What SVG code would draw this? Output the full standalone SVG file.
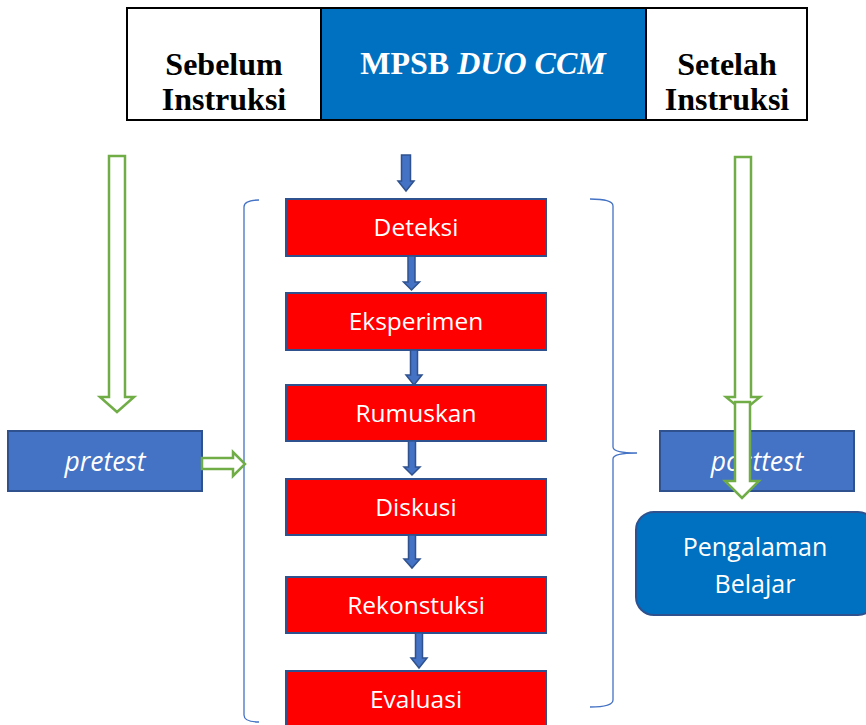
<svg xmlns="http://www.w3.org/2000/svg" width="866" height="725" viewBox="0 0 866 725">
<style>
.hdr{font-family:"Liberation Serif",serif;font-weight:bold;font-size:32px;text-anchor:middle}
.step rect{fill:#FF0000;stroke:#2F528F;stroke-width:2}
.step text,.tb text{font-family:"Open Sans","Noto Sans",sans-serif;font-size:24.5px;fill:#fff;text-anchor:middle}
.tb rect{fill:#4472C4;stroke:#2F528F;stroke-width:2}
.garrow{fill:#fff;stroke:#70AD47;stroke-width:2.5;stroke-linejoin:miter}
.barrow{fill:#4472C4;stroke:#2F528F;stroke-width:1.5}
.brace{fill:none;stroke:#4472C4;stroke-width:1.3}
</style>
<rect width="866" height="725" fill="#fff"/>
<g id="header">
<rect x="321" y="8" width="325" height="112" fill="#0070C0"/>
<rect x="127" y="8" width="680" height="112" fill="none" stroke="#000" stroke-width="2"/>
<line x1="321" y1="8" x2="321" y2="120" stroke="#000" stroke-width="2"/>
<line x1="646" y1="8" x2="646" y2="120" stroke="#000" stroke-width="2"/>
<text class="hdr" x="224" y="75">Sebelum</text>
<text class="hdr" x="224" y="110">Instruksi</text>
<text class="hdr" x="483" y="74" fill="#fff">MPSB <tspan font-style="italic">DUO CCM</tspan></text>
<text class="hdr" x="727" y="75">Setelah</text>
<text class="hdr" x="727" y="110">Instruksi</text>
</g>
<g id="brackets">
<path class="brace" d="M259,200 Q244,200 244,207 V715 Q244,722 259,722"/>
<path class="brace" d="M590,199 Q613,199 613,206 V447 Q613,453 637,453 Q613,453 613,459 V700 Q613,707 590,707"/>
</g>
<g id="pretest" class="tb">
<rect x="8" y="431" width="194" height="60"/>
<text x="105" y="471" font-style="italic" style="font-size:26.5px">pretest</text>
</g>
<g id="posttest" class="tb">
<rect x="660" y="431" width="194" height="60"/>
<text x="757" y="471" font-style="italic" style="font-size:26.5px">posttest</text>
</g>
<g id="pengalaman">
<rect x="636" y="512" width="240" height="103" rx="18" fill="#0070C0" stroke="#2F528F" stroke-width="2"/>
<text x="755" y="556" font-family="Open Sans, Noto Sans, sans-serif" font-size="25" fill="#fff" text-anchor="middle">Pengalaman</text>
<text x="755" y="593" font-family="Open Sans, Noto Sans, sans-serif" font-size="25" fill="#fff" text-anchor="middle">Belajar</text>
</g>
<g id="deteksi" class="step"><rect x="286" y="199" width="260" height="57"/><text x="416" y="236">Deteksi</text></g>
<g id="eksperimen" class="step"><rect x="286" y="293" width="260" height="57"/><text x="416" y="330">Eksperimen</text></g>
<g id="rumuskan" class="step"><rect x="286" y="385" width="260" height="56"/><text x="416" y="422">Rumuskan</text></g>
<g id="diskusi" class="step"><rect x="286" y="479" width="260" height="56"/><text x="416" y="516">Diskusi</text></g>
<g id="rekonstuksi" class="step"><rect x="286" y="577" width="260" height="56"/><text x="416" y="614">Rekonstuksi</text></g>
<g id="evaluasi" class="step"><rect x="286" y="671" width="260" height="60"/><text x="416" y="708">Evaluasi</text></g>
<g id="connectors">
<path class="garrow" d="M109,156 H125 V397 H134 L117,412 L100,397 H109 Z"/>
<path class="garrow" d="M735,157 H751 V397 H760 L743,411 L726,397 H735 Z"/>
<path class="garrow" d="M735,402 H750 V481 H759 L742,498 L725,481 H735 Z"/>
<path class="garrow" d="M202,458 H233 V452 L245,464 L233,476 V469 H202 Z"/>
<path class="barrow" d="M401.5,155 H410.5 V181 H414 L406,191 L398,181 H401.5 Z"/>
<path class="barrow" d="M408,256 H415 V282 H419.5 L411.5,290 L403.5,282 H408 Z"/>
<path class="barrow" d="M410.5,350 H417.5 V375 H422 L414,385 L406,375 H410.5 Z"/>
<path class="barrow" d="M408.5,441 H415.5 V467 H420 L412,475 L404,467 H408.5 Z"/>
<path class="barrow" d="M408.5,535 H415.5 V559 H420 L412,568 L404,559 H408.5 Z"/>
<path class="barrow" d="M415.5,633 H422.5 V658 H427 L419,668 L411,658 H415.5 Z"/>
</g>
</svg>
